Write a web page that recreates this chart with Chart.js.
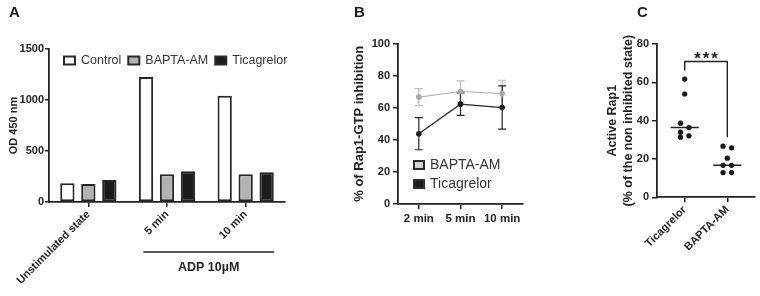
<!DOCTYPE html>
<html>
<head>
<meta charset="utf-8">
<script src="https://cdn.jsdelivr.net/npm/chart.js@4.4.1/dist/chart.umd.min.js"></script>
<style>
  html, body { margin: 0; padding: 0; background: #fff; }
  #wrap { position: relative; width: 760px; height: 296px; overflow: hidden; }
  canvas { position: absolute; top: 0; }
  .lbl { position: absolute; top: 4px; font: bold 15px 'Liberation Sans', Arial, sans-serif; line-height: 1; color: #1a1a1a; }
</style>
</head>
<body>
<div id="wrap">
  <canvas id="chartA" width="290" height="296" style="left:0px"></canvas>
  <canvas id="chartB" width="190" height="296" style="left:340px"></canvas>
  <canvas id="chartC" width="170" height="296" style="left:590px"></canvas>
  <div class="lbl" style="left:9px">A</div>
  <div class="lbl" style="left:354px">B</div>
  <div class="lbl" style="left:637px">C</div>
</div>
<script>
// panel A - OD 450 nm
const aCategories = ['Unstimulated state', '5 min', '10 min'];
const aControl = [183, 1225, 1042];
const aBapta = [176, 272, 271];
const aTicagrelor = [216, 302, 291];
const aTicks = [0, 500, 1000, 1500];

// panel B - % of Rap1-GTP inhibition (mean +/- error)
const bTimes = ['2 min', '5 min', '10 min'];
const bBapta = [66.6, 70.1, 68.8];
const bBaptaErr = [5.3, 6.6, 8.3];
const bTicagrelor = [43.8, 62.2, 60.1];
const bTicagrelorErr = [10.0, 7.0, 13.5];
const bTicks = [0, 20, 40, 60, 80, 100];

// panel C - active Rap1, single values
const cGroups = ['Ticagrelor', 'BAPTA-AM'];
const cTicagrelor = [61.7, 53.9, 38.7, 36.4, 34.0, 32.1, 31.4];
const cTicagrelorJitter = [0, 0, -1, 1, -1, 1, -1];
const cBapta = [26.7, 25.8, 20.4, 16.7, 16.7, 12.9, 12.9];
const cBaptaJitter = [-1, 1, 0, -1, 1, -1, 1];
const cTicks = [0, 20, 40, 60, 80];
const cSignif = '***';

const FONT = "'Liberation Sans', Arial, sans-serif";
Chart.defaults.font.family = FONT;
Chart.defaults.color = '#222';

const INK = '#222';

function median(arr) {
  const s = [...arr].sort((a, b) => a - b);
  const m = Math.floor(s.length / 2);
  return s.length % 2 ? s[m] : (s[m - 1] + s[m]) / 2;
}

// legend with framed boxes, drawn from the datasets
const boxLegend = {
  id: 'boxLegend',
  afterDraw(chart, args, opts) {
    const ctx = chart.ctx;
    const area = chart.chartArea;
    ctx.save();
    ctx.font = opts.fontSize + 'px ' + FONT;
    ctx.textBaseline = 'middle';
    let x = area.left + opts.x;
    let y = opts.fromBottom ? area.bottom - opts.y : area.top + opts.y;
    chart.data.datasets.forEach(ds => {
      ctx.fillStyle = ds.legendFill || ds.backgroundColor;
      ctx.fillRect(x, y - opts.boxH / 2, opts.boxW, opts.boxH);
      ctx.lineWidth = 2;
      ctx.strokeStyle = '#2a2a2a';
      ctx.strokeRect(x, y - opts.boxH / 2, opts.boxW, opts.boxH);
      ctx.fillStyle = '#333';
      ctx.fillText(ds.label, x + opts.boxW + opts.gap, y + 0.5);
      if (opts.horizontal) {
        x += opts.boxW + opts.gap + ctx.measureText(ds.label).width + opts.itemGap;
      } else {
        y += opts.rowH;
      }
    });
    ctx.restore();
  }
};

// "ADP 10µM" line under the stimulated groups
const adpBracket = {
  id: 'adpBracket',
  afterDraw(chart, args, opts) {
    const ctx = chart.ctx;
    const xs = chart.scales.x;
    const x0 = xs.getPixelForValue(opts.from);
    const x1 = xs.getPixelForValue(opts.to);
    const y = chart.chartArea.bottom + opts.offset;
    ctx.save();
    ctx.strokeStyle = INK;
    ctx.lineWidth = 1.6;
    ctx.beginPath();
    ctx.moveTo(x0, y);
    ctx.lineTo(x1, y);
    ctx.stroke();
    ctx.fillStyle = INK;
    ctx.font = 'bold 12.5px ' + FONT;
    ctx.textAlign = 'center';
    ctx.textBaseline = 'middle';
    ctx.fillText(opts.text, (x0 + x1) / 2, y + 16);
    ctx.restore();
  }
};

// vertical error bars with caps
const errorBars = {
  id: 'errorBars',
  beforeDatasetsDraw(chart) {
    const ctx = chart.ctx;
    const ys = chart.scales.y;
    chart.data.datasets.forEach((ds, i) => {
      if (!ds.errors) return;
      const meta = chart.getDatasetMeta(i);
      ctx.save();
      ctx.strokeStyle = ds.errorColor;
      ctx.lineWidth = 1.2;
      meta.data.forEach((pt, j) => {
        const v = ds.data[j], e = ds.errors[j];
        const top = ys.getPixelForValue(v + e);
        const bot = ys.getPixelForValue(v - e);
        ctx.beginPath();
        ctx.moveTo(pt.x, top); ctx.lineTo(pt.x, bot);
        ctx.moveTo(pt.x - 4, top); ctx.lineTo(pt.x + 4, top);
        ctx.moveTo(pt.x - 4, bot); ctx.lineTo(pt.x + 4, bot);
        ctx.stroke();
      });
      ctx.restore();
    });
  }
};

// significance stars above the bracket dataset
const stars = {
  id: 'stars',
  afterDatasetsDraw(chart, args, opts) {
    const ds = chart.data.datasets.find(d => d.isBracket);
    if (!ds) return;
    const ctx = chart.ctx;
    const xc = chart.scales.x.getPixelForValue((ds.data[1].x + ds.data[2].x) / 2);
    const yt = chart.scales.y.getPixelForValue(ds.data[1].y);
    ctx.save();
    ctx.fillStyle = INK;
    ctx.font = 'bold 17px ' + FONT;
    ctx.textAlign = 'center';
    ctx.textBaseline = 'alphabetic';
    const n = opts.text.length;
    for (let k = 0; k < n; k++) {
      ctx.fillText(opts.text[k], xc + (k - (n - 1) / 2) * 8.5, yt + 3);
    }
    ctx.restore();
  }
};

function axisStyle(tickLen) {
  return {
    grid: { display: true, drawOnChartArea: false, offset: false, tickLength: tickLen, color: INK, lineWidth: 1.5 },
    border: { display: true, color: INK, width: 1.8 }
  };
}

const tickFont = { size: 11, weight: 'bold' };
const plain = v => String(v);

// ---------- panel A ----------
new Chart(document.getElementById('chartA'), {
  type: 'bar',
  data: {
    labels: aCategories,
    datasets: [
      { label: 'Control', data: aControl, backgroundColor: '#ffffff' },
      { label: 'BAPTA-AM', data: aBapta, backgroundColor: '#b3b3b3' },
      { label: 'Ticagrelor', data: aTicagrelor, backgroundColor: '#1c1c1c' }
    ]
  },
  options: {
    responsive: false,
    animation: false,
    layout: { padding: { top: 49, right: 5, left: 0, bottom: 0 } },
    datasets: {
      bar: { borderColor: '#262626', borderWidth: 2, borderSkipped: false, categoryPercentage: 0.8, barPercentage: 0.68 }
    },
    plugins: {
      legend: { display: false },
      tooltip: { enabled: false },
      boxLegend: { horizontal: true, x: 15, y: 11.5, boxW: 11, boxH: 8, gap: 6, itemGap: 7, fontSize: 12.5 },
      adpBracket: { from: 0.7, to: 2.36, offset: 50, text: 'ADP 10µM' }
    },
    scales: {
      x: {
        ...axisStyle(5),
        ticks: { font: tickFont, color: INK, minRotation: 45, maxRotation: 45, autoSkip: false, padding: 1 },
        afterFit: s => { s.height = 94; }
      },
      y: {
        ...axisStyle(4),
        min: 0, max: 1500,
        afterBuildTicks: s => { s.ticks = aTicks.map(v => ({ value: v })); },
        ticks: { font: tickFont, color: INK, padding: 1, callback: plain },
        title: { display: true, text: 'OD 450 nm', font: { size: 11, weight: 'bold' }, color: INK, padding: { top: 7, bottom: 0 } },
        afterFit: s => { s.width = 49; }
      }
    }
  },
  plugins: [boxLegend, adpBracket]
});

// ---------- panel B ----------
new Chart(document.getElementById('chartB'), {
  type: 'line',
  data: {
    labels: bTimes,
    datasets: [
      {
        label: 'BAPTA-AM', data: bBapta, errors: bBaptaErr,
        borderColor: '#b4b4b4', errorColor: '#bdbdbd', backgroundColor: '#a6a6a6', legendFill: '#d4d4d4',
        pointBackgroundColor: '#a6a6a6', pointBorderColor: '#a6a6a6'
      },
      {
        label: 'Ticagrelor', data: bTicagrelor, errors: bTicagrelorErr,
        borderColor: '#262626', errorColor: '#262626', backgroundColor: '#1c1c1c', legendFill: '#1c1c1c',
        pointBackgroundColor: '#1c1c1c', pointBorderColor: '#1c1c1c'
      }
    ]
  },
  options: {
    responsive: false,
    animation: false,
    layout: { padding: { top: 43.5, right: 7, left: 0, bottom: 0 } },
    datasets: { line: { borderWidth: 1.2, pointRadius: 2.8, pointBorderWidth: 0, fill: false, tension: 0 } },
    plugins: {
      legend: { display: false },
      tooltip: { enabled: false },
      boxLegend: { horizontal: false, fromBottom: true, x: 16, y: 39, rowH: 19, boxW: 10, boxH: 8, gap: 6, fontSize: 14 }
    },
    scales: {
      x: {
        ...axisStyle(5),
        offset: true,
        ticks: { font: { size: 11.5, weight: 'bold' }, color: INK, maxRotation: 0, autoSkip: false, padding: 3 },
        afterFit: s => { s.height = 92; }
      },
      y: {
        ...axisStyle(5),
        min: 0, max: 100,
        afterBuildTicks: s => { s.ticks = bTicks.map(v => ({ value: v })); },
        ticks: { font: tickFont, color: INK, padding: 3, callback: plain },
        title: { display: true, text: '% of Rap1-GTP inhibition', font: { size: 13, weight: 'bold' }, color: INK, padding: { top: 12, bottom: 0 } },
        afterFit: s => { s.width = 58; }
      }
    }
  },
  plugins: [boxLegend, errorBars]
});

// ---------- panel C ----------
const spread = 0.1;   // horizontal jitter step, in group units
const halfMed = 0.33; // half length of the median line
const medT = median(cTicagrelor);
const medB = median(cBapta);
const topT = Math.max(...cTicagrelor);
const topB = Math.max(...cBapta);
const bracketY = topT + 9.2;

new Chart(document.getElementById('chartC'), {
  type: 'scatter',
  data: {
    datasets: [
      { data: cTicagrelor.map((v, i) => ({ x: 0 + cTicagrelorJitter[i] * spread, y: v })), backgroundColor: '#1a1a1a', pointRadius: 2.6 },
      { data: cBapta.map((v, i) => ({ x: 1 + cBaptaJitter[i] * spread, y: v })), backgroundColor: '#1a1a1a', pointRadius: 2.6 },
      { type: 'line', data: [{ x: -halfMed, y: medT }, { x: halfMed, y: medT }], borderColor: INK, borderWidth: 1.5, pointRadius: 0 },
      { type: 'line', data: [{ x: 1 - halfMed, y: medB }, { x: 1 + halfMed, y: medB }], borderColor: INK, borderWidth: 1.5, pointRadius: 0 },
      {
        type: 'line', isBracket: true,
        data: [{ x: 0, y: topT + 4.5 }, { x: 0, y: bracketY }, { x: 1, y: bracketY }, { x: 1, y: topB + 4.7 }],
        borderColor: INK, borderWidth: 1.4, pointRadius: 0
      }
    ]
  },
  options: {
    responsive: false,
    animation: false,
    layout: { padding: { top: 44, right: 1, left: 0, bottom: 0 } },
    plugins: {
      legend: { display: false },
      tooltip: { enabled: false },
      stars: { text: cSignif }
    },
    scales: {
      x: {
        ...axisStyle(5),
        type: 'linear',
        min: -0.65, max: 1.65,
        afterBuildTicks: s => { s.ticks = cGroups.map((g, i) => ({ value: i })); },
        ticks: { font: tickFont, color: INK, minRotation: 45, maxRotation: 45, autoSkip: false, padding: 1, callback: v => cGroups[v] },
        afterFit: s => { s.height = 98.7; }
      },
      y: {
        ...axisStyle(5),
        min: 0, max: 80,
        afterBuildTicks: s => { s.ticks = cTicks.map(v => ({ value: v })); },
        ticks: { font: tickFont, color: INK, padding: 3, callback: plain },
        title: {
          display: true, text: ['Active Rap1', '(% of the non inhibited state)'],
          font: { size: 12.5, weight: 'bold', lineHeight: 1.3 }, color: INK, padding: { top: 14, bottom: 0 }
        },
        afterFit: s => { s.width = 67; }
      }
    }
  },
  plugins: [stars]
});
</script>
</body>
</html>
